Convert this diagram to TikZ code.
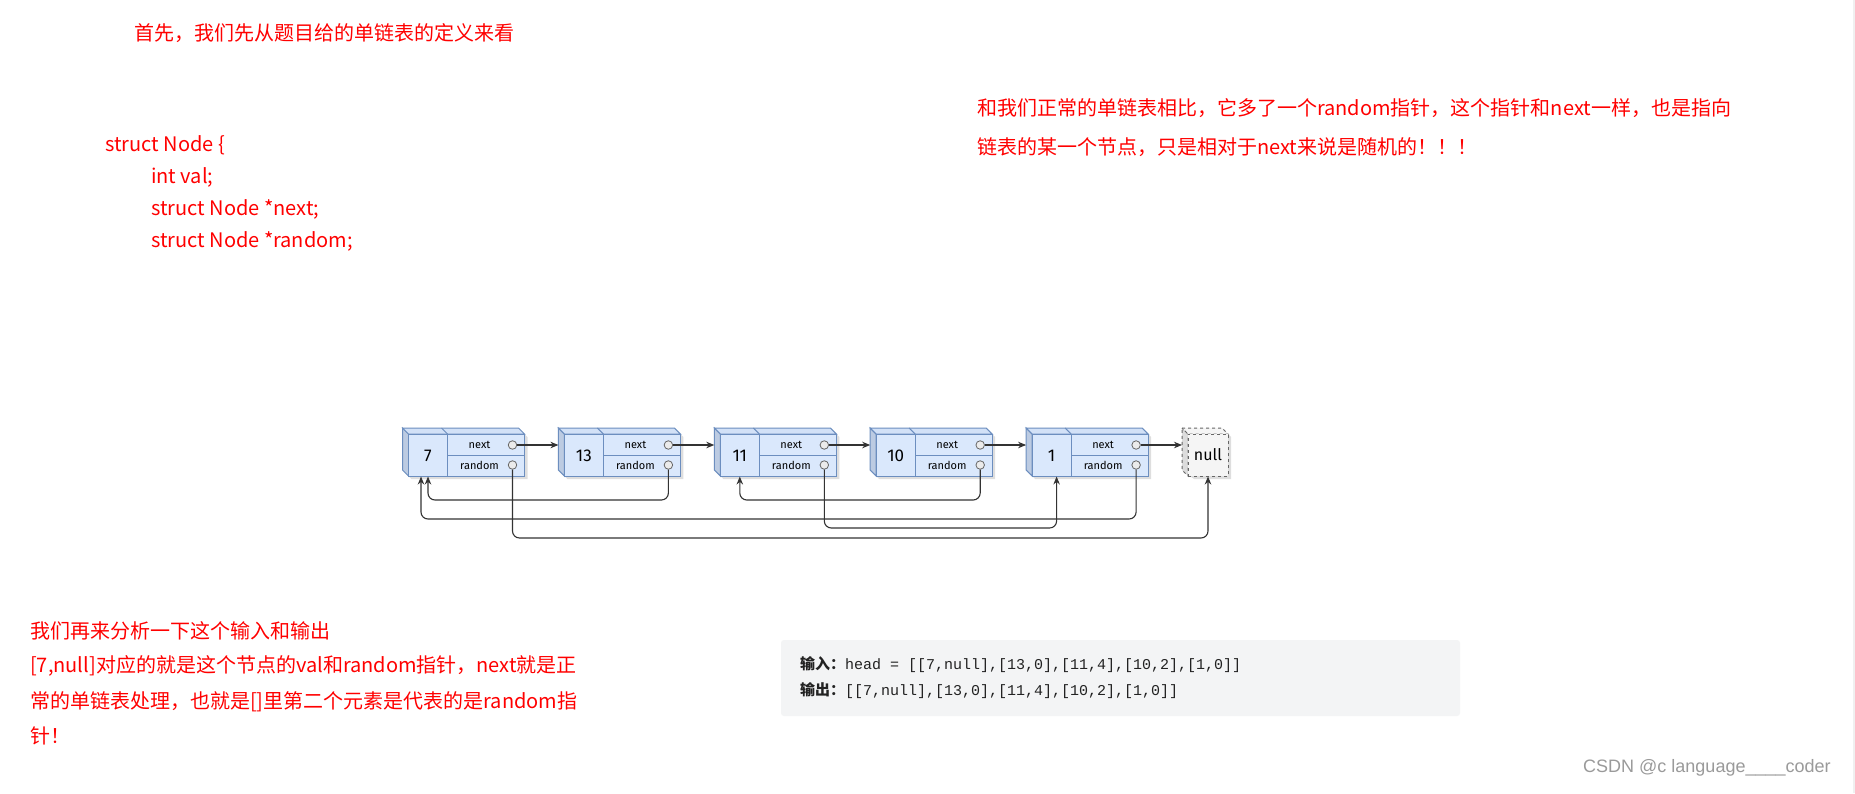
\documentclass[tikz,border=0pt]{standalone}
\usepackage{fontspec}
\setmainfont{Noto Sans CJK SC}
\newfontfamily\cjkf{Noto Sans CJK SC}
\newfontfamily\monof{Liberation Mono}
\newfontfamily\wmf{Liberation Sans}
\newfontfamily\nodef{Fira Sans}
\usetikzlibrary{arrows.meta,calc}
\definecolor{txtred}{RGB}{255,0,0}
\definecolor{cubeline}{HTML}{6C8EBF}
\definecolor{cubefront}{HTML}{DAE8FC}
\definecolor{cubetop}{HTML}{D2E1F7}
\definecolor{cubeside}{HTML}{BCCBE2}
\definecolor{nullline}{HTML}{666666}
\definecolor{nullfront}{HTML}{F5F5F5}
\definecolor{nullside}{HTML}{DCDCDC}
\definecolor{connc}{HTML}{333333}
\definecolor{codebg}{HTML}{F3F4F5}
\definecolor{codetxt}{HTML}{222222}
\definecolor{wmc}{HTML}{9A9A9A}
\tikzset{
  redtxt/.style={font=\cjkf\fontsize{20}{24}\selectfont, text=txtred, anchor=west, inner sep=0pt},
  frontbox/.style={draw=cubeline, fill=cubefront, line width=1pt, minimum width=116pt, minimum height=42pt, inner sep=0pt},
  nullbox/.style={draw=nullline, fill=nullfront, dashed, line width=1pt, minimum width=40pt, minimum height=42pt, inner sep=0pt, font=\nodef\fontsize{16}{18}\selectfont},
  cubeedge/.style={draw=cubeline, line width=1pt},
  valtext/.style={font=\nodef\fontsize{17}{19}\selectfont, inner sep=0pt},
  fldtext/.style={font=\nodef\fontsize{11}{12}\selectfont, inner sep=0pt},
  port/.style={circle, draw=nullline, fill=white!92!black, line width=0.8pt, minimum size=8.5pt, inner sep=0pt},
  conn/.style={draw=connc, line width=1.1pt, -{Stealth[length=8pt,width=6.5pt]}},
  link/.style={conn, rounded corners=7pt},
  shade3d/.style={fill=black, opacity=0.13}
}
\newcommand\mkcube[3]{%
  \begin{scope}[shift={(#2,0)}]
    \fill[shade3d] (3,431) -- (119,431) -- (125,437) -- (125,479) -- (9,479) -- (3,473) -- cycle;
    \filldraw[cubeedge, fill=cubeside] (0,428) -- (6,434) -- (6,476) -- (0,470) -- cycle;
    \filldraw[cubeedge, fill=cubetop] (0,428) -- (116,428) -- (122,434) -- (6,434) -- cycle;
    \node[frontbox] (b#1) at (64,455) {};
    \draw[cubeedge] (45,434) -- (39,428);
    \draw[cubeedge] (45,434) -- (45,476);
    \draw[cubeedge] (45,455) -- (122,455);
    \node[valtext] (v#1) at (25.5,456) {#3};
    \node[fldtext] (fn#1) at (77,445) {next};
    \node[fldtext] (fr#1) at (77,465) {random};
    \node[port] (n#1) at (110,445) {};
    \node[port] (r#1) at (110,465) {};
    \coordinate (s#1) at (0,455);
  \end{scope}
}
\begin{document}
\begin{tikzpicture}[x=1pt,y=-1pt]
\useasboundingbox (0,0) rectangle (1855,793);
\fill[white] (0,0) rectangle (1855,793);
\draw[gray!12, line width=1.5pt] (1854,0) -- (1854,793);

% texts
\node[redtxt] (title) at (134,33) {首先，我们先从题目给的单链表的定义来看};
\node[redtxt] (st1) at (105,145) {struct Node \{};
\node[redtxt] (st2) at (151,177) {int val;};
\node[redtxt] (st3) at (151,209) {struct Node *next;};
\node[redtxt] (st4) at (151,241) {struct Node *random;};
\node[redtxt] (rt1) at (977,108) {和我们正常的单链表相比，它多了一个random指针，这个指针和next一样，也是指向};
\node[redtxt] (rt2) at (977,147) {链表的某一个节点，只是相对于next来说是随机的！！！};
\node[redtxt] (bt1) at (30,631) {我们再来分析一下这个输入和输出};
\node[redtxt] (bt2) at (30,666) {[7,null]对应的就是这个节点的val和random指针，next就是正};
\node[redtxt] (bt3) at (30,702) {常的单链表处理，也就是[]里第二个元素是代表的是random指};
\node[redtxt] (bt4) at (30,736) {针！};

% code box
\fill[codebg, rounded corners=3pt] (781,640) rectangle (1460,716);
\node[anchor=west, inner sep=0pt, text=codetxt] (in) at (800,665) {{\cjkf\bfseries\fontsize{15}{18}\selectfont 输入：}{\monof\fontsize{15}{18}\selectfont head = [[7,null],[13,0],[11,4],[10,2],[1,0]]}};
\node[anchor=west, inner sep=0pt, text=codetxt] (out) at (800,691) {{\cjkf\bfseries\fontsize{15}{18}\selectfont 输出：}{\monof\fontsize{15}{18}\selectfont [[7,null],[13,0],[11,4],[10,2],[1,0]]}};

% watermark
\node[anchor=west, inner sep=0pt, text=wmc, font=\wmf\fontsize{18}{20}\selectfont] (wm) at (1583,768) {CSDN @c language\_\_\_\_coder};

% cubes
\mkcube{1}{402.5}{7}
\mkcube{2}{558.4}{13}
\mkcube{3}{714.3}{11}
\mkcube{4}{870.2}{10}
\mkcube{5}{1026.1}{1}

% null cube
\fill[shade3d] (1185,431) -- (1225,431) -- (1231,437) -- (1231,479) -- (1194,479) -- (1185,473) -- cycle;
\filldraw[draw=nullline, fill=nullside, dashed, line width=1pt] (1182,428) -- (1188,434) -- (1188,476) -- (1182,470) -- cycle;
\filldraw[draw=nullline, fill=nullfront, dashed, line width=1pt] (1182,428) -- (1222,428) -- (1228,434) -- (1188,434) -- cycle;
\node[nullbox] (bnull) at (1208,455) {null};
\coordinate (snull) at (1182,455);

% bus levels
\coordinate (busA) at (0,500);
\coordinate (busB) at (0,519);
\coordinate (busC) at (0,528);
\coordinate (busD) at (0,538);
\coordinate (t1b) at ($(v1 |- b1.south)+(-7,0)$);
\coordinate (t5) at ($(v5 |- b5.south)+(5,0)$);

% next pointers
\draw[conn] (n1.east) -- (n1 -| s2);
\draw[conn] (n2.east) -- (n2 -| s3);
\draw[conn] (n3.east) -- (n3 -| s4);
\draw[conn] (n4.east) -- (n4 -| s5);
\draw[conn] (n5.east) -- (n5 -| snull);

% random pointers
\draw[link] (r2.south) |- (busA -| v1) -- (v1 |- b1.south);
\draw[link] (r5.south) |- (busB -| t1b) -- (t1b);
\draw[link] (r4.south) |- (busA -| v3) -- (v3 |- b3.south);
\draw[link] (r3.south) |- (busC -| t5) -- (t5);
\draw[link] (r1.south) |- (busD -| bnull) -- (bnull.south);
\end{tikzpicture}
\end{document}
